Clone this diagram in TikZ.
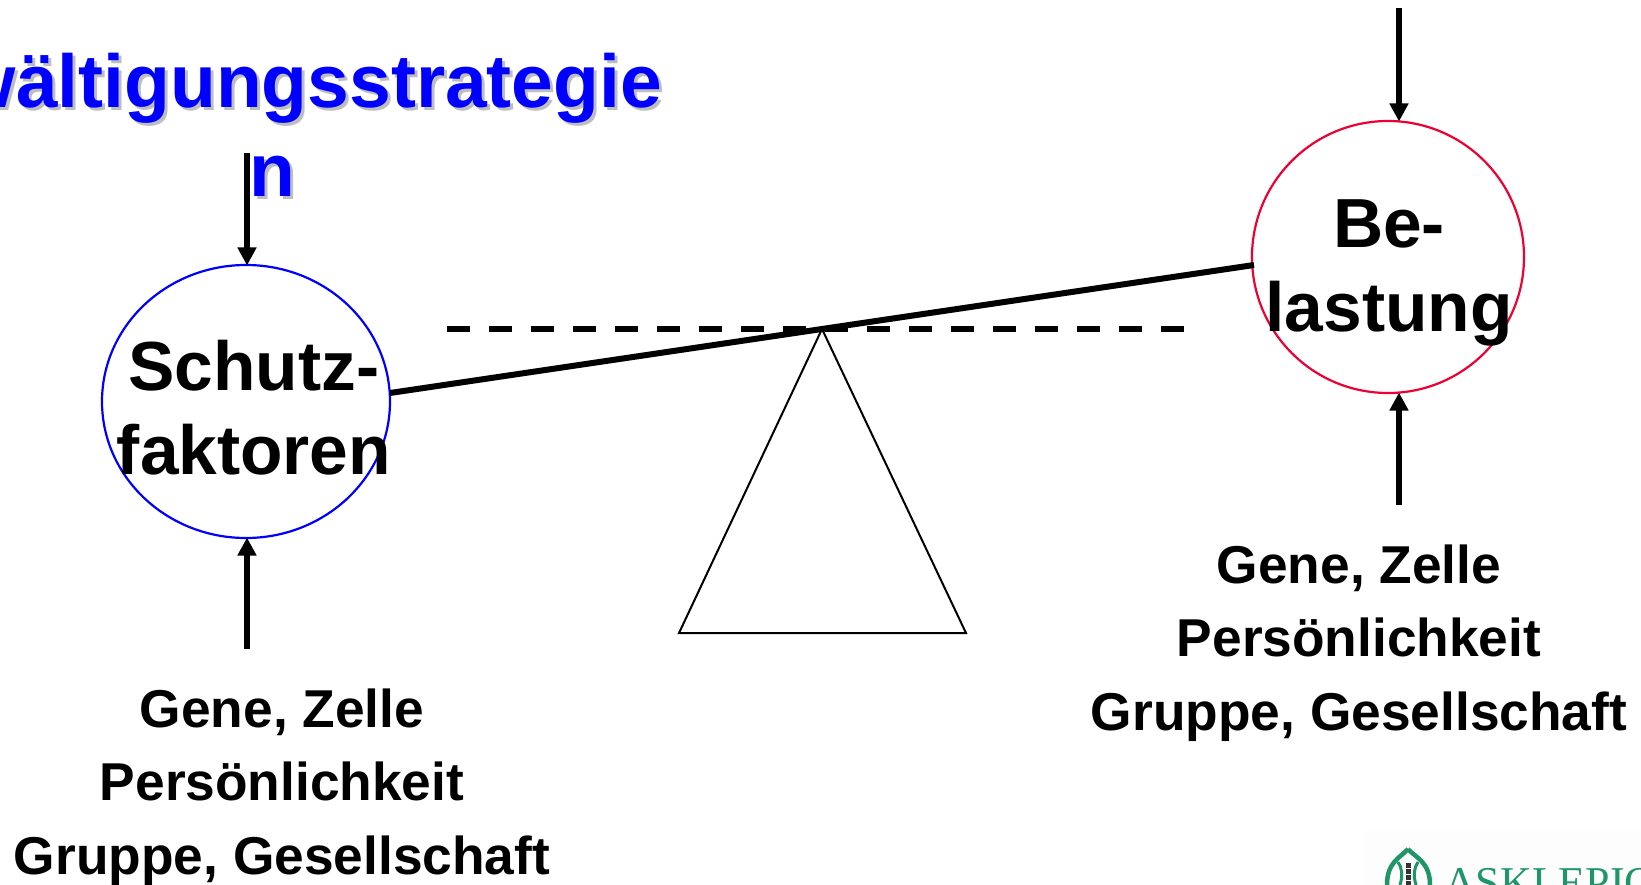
\documentclass[tikz,border=0pt]{standalone}
\usepackage{fontspec}
\setmainfont{Liberation Sans}
\newfontfamily\serifface{Liberation Serif}
\usetikzlibrary{arrows.meta,shapes.geometric}
\definecolor{logogreen}{RGB}{30,150,105}
\definecolor{shadowgray}{RGB}{190,190,190}
\definecolor{ringred}{RGB}{238,0,50}
\tikzset{
  every node/.style={inner sep=0pt,outer sep=0pt},
  ring/.style={ellipse,draw,line width=2.2pt},
  feeder/.style={line width=5.2pt,-{Triangle[length=18pt,width=18pt]},shorten >=-0.5pt},
  beam/.style={line width=6pt},
  level/.style={line width=5.6pt,dash pattern=on 23pt off 19pt},
  bigtext/.style={font=\bfseries\fontsize{69.5}{84}\selectfont,align=center},
  smalltext/.style={font=\bfseries\fontsize{53.3}{73.5}\selectfont,align=center},
  headtext/.style={font=\bfseries\fontsize{75}{90}\selectfont,anchor=base east},
}
\begin{document}
\begin{tikzpicture}[x=1pt,y=-1pt]
\useasboundingbox (0,0) rectangle (1641,885);
\clip (0,0) rectangle (1641,885);
% heading with shadow
\node[headtext,text=shadowgray] at (665,111) {Bewältigungsstrategie};
\node[headtext,text=shadowgray] at (298,200) {n};
\node[headtext,text=blue] (head1) at (662,108) {Bewältigungsstrategie};
\node[headtext,text=blue] (head2) at (295,197) {n};
% rings
\node[ring,draw=blue,minimum width=288pt,minimum height=273pt] (schutz) at (246,401.5) {};
\node[ring,draw=ringred,minimum width=272pt,minimum height=272pt] (last) at (1388,257) {};
% labels
\node[bigtext] (schutzt) at (254,408) {Schutz-\\faktoren};
\node[bigtext] (lastt) at (1389,272.5) {Be-\\lastung};
\node[smalltext] (gl) at (282,787) {Gene, Zelle\\Persönlichkeit\\Gruppe, Gesellschaft};
\node[smalltext] (gr) at (1359,643) {Gene, Zelle\\Persönlichkeit\\Gruppe, Gesellschaft};
% fulcrum
\node[draw=none] (apex) at (822,329) {};
\coordinate (baseL) at (679,633);
\coordinate (baseR) at (966,633);
\draw[line width=2pt,line join=miter] (apex.center) -- (baseL) -- (baseR) -- cycle;
% level + beam
\coordinate (lvlL) at (447,329);
\coordinate (lvlR) at (1190,329);
\draw[level] (lvlL) -- (lvlR);
\coordinate (beamL) at (390,393);
\coordinate (beamR) at (1254,265);
\draw[beam] (beamL) -- (beamR);
% arrows
\coordinate (a1) at (247,153);
\coordinate (a1t) at (247,265);
\coordinate (a2) at (247,649);
\coordinate (a2t) at (247,538);
\coordinate (a3) at (1399,8);
\coordinate (a3t) at (1399,121);
\coordinate (a4) at (1399,505);
\coordinate (a4t) at (1399,393);
\draw[feeder] (a1) -- (a1t);
\draw[feeder] (a2) -- (a2t);
\draw[feeder] (a3) -- (a3t);
\draw[feeder] (a4) -- (a4t);
% logo
\fill[black!0.8] (1363,830) rectangle (1641,885);
\begin{scope}[logogreen,line width=4.5pt]
\draw (1408,849) .. controls (1400,858) and (1387,862) .. (1387,885);
\draw (1408,849) .. controls (1416,858) and (1430,862) .. (1430,885);
\draw[line width=3pt] (1398,862) .. controls (1402,868) and (1403,875) .. (1400,885);
\draw[line width=3pt] (1418,862) .. controls (1414,868) and (1413,875) .. (1416,885);
\end{scope}
\draw[black!80,line width=5pt,densely dotted] (1408,863) -- (1408,885);
\node[anchor=base west,text=logogreen,font=\serifface\fontsize{44}{44}\selectfont] (logo) at (1444,897) {ASKLEPIOS};
\end{tikzpicture}
\end{document}
